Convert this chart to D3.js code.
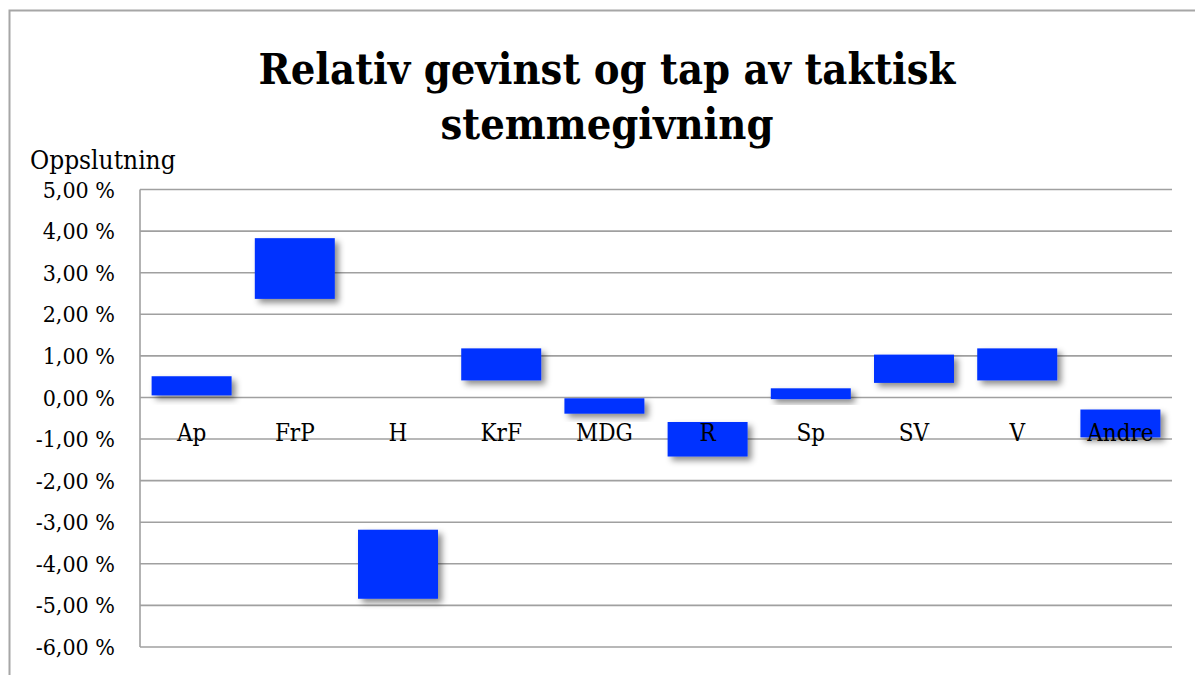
<!DOCTYPE html>
<html>
<head>
<meta charset="utf-8">
<script src="https://cdn.jsdelivr.net/npm/d3@7"></script>
<style>
  body { margin: 0; background: #fff; }
  text { font-family: 'DejaVu Serif Condensed', 'DejaVu Serif', serif; }
</style>
</head>
<body>
<div id="chart"></div>
<script>
const width = 1195
const height = 675

// parties and the low / high end of each floating bar (percent)
const parties = ['Ap', 'FrP', 'H', 'KrF', 'MDG', 'R', 'Sp', 'SV', 'V', 'Andre']
const lowValues = [0.05, 2.37, -4.84, 0.41, -0.39, -1.42, -0.04, 0.35, 0.41, -0.96]
const highValues = [0.51, 3.83, -3.18, 1.18, -0.02, -0.59, 0.22, 1.03, 1.18, -0.29]
const yTicks = [5, 4, 3, 2, 1, 0, -1, -2, -3, -4, -5, -6]

const titleLines = ['Relativ gevinst og tap av taktisk', 'stemmegivning']
const yTitle = 'Oppslutning'

const data = parties.map((p, i) => ({ party: p, low: lowValues[i], high: highValues[i] }))

const margin = { top: 189.5, right: 23, bottom: 28, left: 140 }

const svg = d3.select('#chart')
  .append('svg')
  .attr('width', width)
  .attr('height', height)

const defs = svg.append('defs')
const shadow = defs.append('filter')
  .attr('id', 'shadow')
  .attr('x', '-20%').attr('y', '-30%')
  .attr('width', '150%').attr('height', '180%')
shadow.append('feDropShadow')
  .attr('dx', 4)
  .attr('dy', 4)
  .attr('stdDeviation', 3)
  .attr('flood-color', '#000')
  .attr('flood-opacity', 0.45)

// outer frame
svg.append('path')
  .attr('d', `M9.5,${height} V10.5 H${width}`)
  .attr('fill', 'none')
  .attr('stroke', '#a6a6a6')
  .attr('stroke-width', 2)

const x = d3.scaleBand()
  .domain(parties)
  .range([margin.left, width - margin.right])
  .paddingInner(0.225)
  .paddingOuter(0.1125)

const y = d3.scaleLinear()
  .domain([-6, 5])
  .range([height - margin.bottom, margin.top])

// gridlines
svg.append('g')
  .selectAll('line')
  .data(yTicks)
  .enter().append('line')
  .attr('x1', margin.left)
  .attr('x2', width - margin.right)
  .attr('y1', d => y(d))
  .attr('y2', d => y(d))
  .attr('stroke', '#a0a0a0')
  .attr('stroke-width', 1.6)

svg.append('line')
  .attr('x1', margin.left)
  .attr('x2', margin.left)
  .attr('y1', y(5))
  .attr('y2', y(-6))
  .attr('stroke', '#a0a0a0')
  .attr('stroke-width', 1.6)

// y tick labels
svg.append('g')
  .selectAll('text')
  .data(yTicks)
  .enter().append('text')
  .attr('x', 115)
  .attr('y', d => y(d))
  .attr('dy', '0.35em')
  .attr('text-anchor', 'end')
  .attr('font-size', 23)
  .attr('fill', '#000')
  .text(d => d3.format('.2f')(d).replace('.', ',').replace('\u2212', '-') + ' %')

// bars
svg.append('g')
  .selectAll('rect')
  .data(data)
  .enter().append('rect')
  .attr('x', d => x(d.party))
  .attr('width', x.bandwidth())
  .attr('y', d => y(d.high))
  .attr('height', d => y(d.low) - y(d.high))
  .attr('fill', '#0433ff')
  .attr('filter', 'url(#shadow)')

// category labels, placed just above the -1 % line
svg.append('g')
  .selectAll('text')
  .data(parties)
  .enter().append('text')
  .attr('x', d => x(d) + x.bandwidth() / 2)
  .attr('y', y(-1) + 2)
  .attr('text-anchor', 'middle')
  .attr('font-size', 24)
  .attr('fill', '#000')
  .text(d => d)

// axis title
svg.append('text')
  .attr('x', 30)
  .attr('y', 169)
  .attr('font-size', 26)
  .text(yTitle)

// chart title
svg.append('g')
  .selectAll('text')
  .data(titleLines)
  .enter().append('text')
  .attr('x', 607)
  .attr('y', (d, i) => 84 + i * 55)
  .attr('text-anchor', 'middle')
  .attr('font-size', 43)
  .attr('font-weight', 'bold')
  .text(d => d)
</script>
</body>
</html>
